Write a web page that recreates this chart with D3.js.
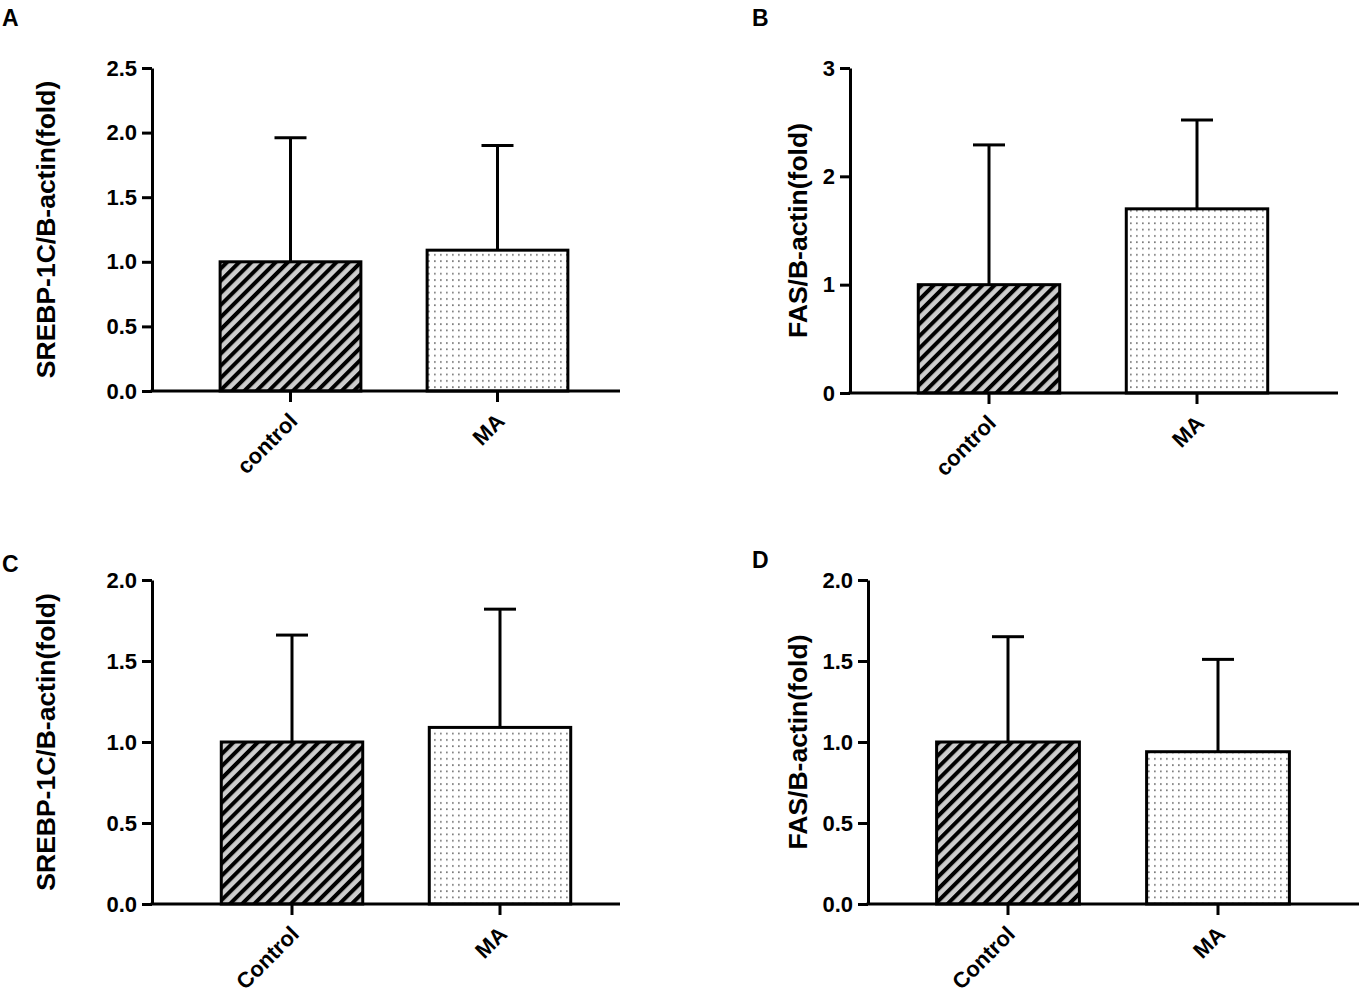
<!DOCTYPE html>
<html>
<head>
<meta charset="utf-8">
<script src="https://cdn.jsdelivr.net/npm/d3@7"></script>
<style>
  body { margin: 0; background: #fff; }
  svg { display: block; font-family: "Liberation Sans", Arial, sans-serif; }
  .tickText { font-size: 22px; font-weight: bold; fill: #000; }
  .catText { font-size: 22px; font-weight: bold; fill: #000; }
  .axisTitle { font-size: 26.5px; font-weight: bold; fill: #000; }
  .panelLetter { font-size: 23px; font-weight: bold; fill: #000; }
</style>
</head>
<body>
<svg id="fig" width="1359" height="994"></svg>
<script>
// values
const categoriesAB = ['control', 'MA'];
const categoriesCD = ['Control', 'MA'];

const meanA = [1.0, 1.09];
const errA = [0.96, 0.81];
const meanB = [1.0, 1.70];
const errB = [1.29, 0.82];
const meanC = [1.0, 1.09];
const errC = [0.66, 0.73];
const meanD = [1.0, 0.94];
const errD = [0.65, 0.57];

const ticksA = [0, 0.5, 1.0, 1.5, 2.0, 2.5];
const ticksB = [0, 1, 2, 3];
const ticksCD = [0, 0.5, 1.0, 1.5, 2.0];

const titleSREBP = 'SREBP-1C/B-actin(fold)';
const titleFAS = 'FAS/B-actin(fold)';

const panels = [
  { letter: 'A', cats: categoriesAB, mean: meanA, err: errA, ticks: ticksA, fmt: '.1f', title: titleSREBP,
    left: 152, top: 68, bottom: 391, right: 620, bandStart: 187, step: 207, titleX: 55, letterX: 2, letterY: 26 },
  { letter: 'B', cats: categoriesAB, mean: meanB, err: errB, ticks: ticksB, fmt: 'd', title: titleFAS,
    left: 850, top: 68, bottom: 393, right: 1338, bandStart: 885, step: 208, titleX: 807, letterX: 752, letterY: 26 },
  { letter: 'C', cats: categoriesCD, mean: meanC, err: errC, ticks: ticksCD, fmt: '.1f', title: titleSREBP,
    left: 152, top: 580, bottom: 904, right: 620, bandStart: 188, step: 208, titleX: 55, letterX: 2, letterY: 572 },
  { letter: 'D', cats: categoriesCD, mean: meanD, err: errD, ticks: ticksCD, fmt: '.1f', title: titleFAS,
    left: 868, top: 580, bottom: 904, right: 1359, bandStart: 903, step: 210, titleX: 807, letterX: 752, letterY: 568 },
];

const svg = d3.select('#fig');
const defs = svg.append('defs');

// diagonal hatch for control bars
const hatch = defs.append('pattern')
  .attr('id', 'hatch')
  .attr('patternUnits', 'userSpaceOnUse')
  .attr('width', 8.6)
  .attr('height', 8.6)
  .attr('patternTransform', 'rotate(45)');
hatch.append('rect').attr('width', 8.6).attr('height', 8.6).attr('fill', '#cdcdcd');
hatch.append('rect').attr('width', 4).attr('height', 8.6).attr('fill', '#000');

// fine dot grid for MA bars
const dots = defs.append('pattern')
  .attr('id', 'dots')
  .attr('patternUnits', 'userSpaceOnUse')
  .attr('width', 6)
  .attr('height', 6.3);
dots.append('rect').attr('width', 6).attr('height', 6.3).attr('fill', '#fff');
dots.append('rect').attr('x', 2).attr('y', 2).attr('width', 1.7).attr('height', 1.7).attr('fill', '#7a7a7a');

const fills = ['url(#hatch)', 'url(#dots)'];

panels.forEach((p) => {
  const g = svg.append('g');

  const y = d3.scaleLinear()
    .domain([0, d3.max(p.ticks)])
    .range([p.bottom, p.top]);

  const x = d3.scaleBand()
    .domain(p.cats)
    .range([p.bandStart, p.bandStart + p.step * p.cats.length])
    .paddingInner(0.32)
    .paddingOuter(0.16);

  const rows = p.cats.map((c, i) => ({ cat: c, mean: p.mean[i], err: p.err[i], fill: fills[i] }));

  // error bars (upper only)
  const eb = g.append('g')
    .selectAll('g')
    .data(rows)
    .enter()
    .append('g');

  eb.append('line')
    .attr('x1', (d) => x(d.cat) + x.bandwidth() / 2)
    .attr('x2', (d) => x(d.cat) + x.bandwidth() / 2)
    .attr('y1', (d) => y(d.mean))
    .attr('y2', (d) => y(d.mean + d.err))
    .attr('stroke', '#000')
    .attr('stroke-width', 3);

  eb.append('line')
    .attr('x1', (d) => x(d.cat) + x.bandwidth() / 2 - 16)
    .attr('x2', (d) => x(d.cat) + x.bandwidth() / 2 + 16)
    .attr('y1', (d) => y(d.mean + d.err))
    .attr('y2', (d) => y(d.mean + d.err))
    .attr('stroke', '#000')
    .attr('stroke-width', 3);

  // bars
  g.append('g')
    .selectAll('rect')
    .data(rows)
    .enter()
    .append('rect')
    .attr('x', (d) => x(d.cat))
    .attr('y', (d) => y(d.mean))
    .attr('width', x.bandwidth())
    .attr('height', (d) => y(0) - y(d.mean))
    .attr('fill', (d) => d.fill)
    .attr('stroke', '#000')
    .attr('stroke-width', 3);

  // y axis
  const yAxis = g.append('g')
    .attr('transform', `translate(${p.left}, 0)`)
    .call(d3.axisLeft(y).tickValues(p.ticks).tickFormat(d3.format(p.fmt)).tickSize(10).tickSizeOuter(0).tickPadding(5));
  yAxis.select('.domain').attr('stroke-width', 3);
  yAxis.selectAll('.tick line').attr('stroke-width', 3);
  yAxis.selectAll('.tick text').attr('class', 'tickText').attr('font-size', null).attr('font-family', null);

  // x axis
  const xAxis = g.append('g')
    .attr('transform', `translate(0, ${p.bottom})`)
    .call(d3.axisBottom(x).tickSize(11).tickSizeOuter(0).tickPadding(0));
  xAxis.select('.domain').remove();
  xAxis.selectAll('.tick line').attr('stroke-width', 3);
  xAxis.selectAll('.tick text')
    .attr('class', 'catText')
    .attr('font-size', null)
    .attr('font-family', null)
    .attr('text-anchor', 'end')
    .attr('dy', '0.35em')
    .attr('y', 0)
    .attr('transform', 'translate(3, 26) rotate(-45)');

  g.append('line')
    .attr('x1', p.left - 1.5)
    .attr('x2', p.right)
    .attr('y1', p.bottom)
    .attr('y2', p.bottom)
    .attr('stroke', '#000')
    .attr('stroke-width', 3);

  // axis title
  g.append('text')
    .attr('class', 'axisTitle')
    .attr('text-anchor', 'middle')
    .attr('transform', `translate(${p.titleX}, ${(p.top + p.bottom) / 2}) rotate(-90)`)
    .text(p.title);

  // panel letter
  g.append('text')
    .attr('class', 'panelLetter')
    .attr('x', p.letterX)
    .attr('y', p.letterY)
    .text(p.letter);
});
</script>
</body>
</html>
